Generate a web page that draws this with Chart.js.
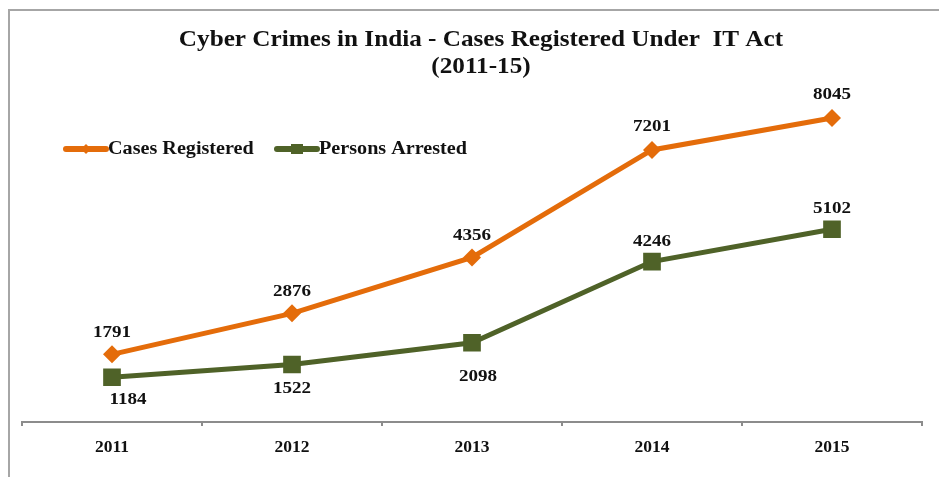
<!DOCTYPE html>
<html>
<head>
<meta charset="utf-8">
<script src="https://cdn.jsdelivr.net/npm/chart.js@4.4.1/dist/chart.umd.min.js"></script>
<style>
  body { margin: 0; background: #fff; }
  #frame { position: absolute; left: 8px; top: 9px; width: 931px; height: 468px;
           border-top: 2px solid #a6a6a6; border-left: 2px solid #a6a6a6; }
  #wrap { position: absolute; left: 0; top: 0; width: 939px; height: 477px; }
</style>
</head>
<body>
<div id="frame"></div>
<div id="wrap"><canvas id="cyber_chart"></canvas></div>
<script>
const years = ['2011', '2012', '2013', '2014', '2015']
const casesRegistered = [1791, 2876, 4356, 7201, 8045]
const personsArrested = [1184, 1522, 2098, 4246, 5102]
const titleLines = ['Cyber Crimes in India - Cases Registered Under  IT Act', '(2011-15)']

const serif = "'Liberation Serif', 'Times New Roman', serif"
const orange = '#E46C0A'
const green = '#4F6228'
const stretch = 1.12   // the source lettering is a bit wide

// where each value label sits relative to its point
const labelPlacement = [
    [[0, -22], [0, -22], [0, -22], [0, -23], [0, -23]],
    [[16, 22], [0, 24], [6, 34], [0, -20], [0, -21]]
]

function wideText(ctx, text, x, y, align) {
    ctx.save()
    ctx.translate(x, y)
    ctx.scale(stretch, 1)
    ctx.textAlign = align || 'center'
    ctx.fillText(text, 0, 0)
    ctx.restore()
}

const extras = {
    id: 'extras',
    afterDraw(chart) {
        const ctx = chart.ctx
        ctx.save()
        ctx.fillStyle = '#111'
        ctx.textBaseline = 'middle'

        // title
        ctx.font = 'bold 22.5px ' + serif
        wideText(ctx, titleLines[0], 481, 40)
        wideText(ctx, titleLines[1], 481, 67)

        // value labels
        ctx.font = 'bold 17px ' + serif
        chart.data.datasets.forEach((ds, i) => {
            chart.getDatasetMeta(i).data.forEach((pt, j) => {
                const off = labelPlacement[i][j]
                wideText(ctx, String(ds.data[j]), pt.x + off[0], pt.y + off[1])
            })
        })

        // legend
        const legendX = [66, 277]
        const ly = 149
        chart.data.datasets.forEach((ds, i) => {
            const x0 = legendX[i]
            ctx.strokeStyle = ds.borderColor
            ctx.fillStyle = ds.borderColor
            ctx.lineWidth = 6
            ctx.lineCap = 'round'
            ctx.beginPath()
            ctx.moveTo(x0, ly)
            ctx.lineTo(x0 + 40, ly)
            ctx.stroke()
            if (i === 0) {
                ctx.beginPath()
                ctx.moveTo(x0 + 20, ly - 5)
                ctx.lineTo(x0 + 25, ly)
                ctx.lineTo(x0 + 20, ly + 5)
                ctx.lineTo(x0 + 15, ly)
                ctx.closePath()
                ctx.fill()
            } else {
                ctx.fillRect(x0 + 14, ly - 5, 12, 10)
            }
            ctx.fillStyle = '#111'
            ctx.font = 'bold 18px ' + serif
            wideText(ctx, ds.label, x0 + 42, ly, 'left')
        })
        ctx.restore()
    }
}

new Chart(document.getElementById('cyber_chart'), {
    type: 'line',
    data: {
        labels: years,
        datasets: [{
            label: 'Cases Registered',
            data: casesRegistered,
            borderColor: orange,
            backgroundColor: orange,
            borderWidth: 5,
            pointStyle: 'rectRot',
            pointRadius: 9,
            pointBorderWidth: 0,
            tension: 0
        }, {
            label: 'Persons Arrested',
            data: personsArrested,
            borderColor: green,
            backgroundColor: green,
            borderWidth: 5,
            pointStyle: 'rect',
            pointRadius: 12.5,
            pointBorderWidth: 0,
            tension: 0
        }]
    },
    options: {
        responsive: true,
        maintainAspectRatio: false,
        animation: false,
        layout: { padding: { left: 22, right: 17, top: 82, bottom: 8 } },
        plugins: {
            legend: { display: false },
            title: { display: false },
            tooltip: { enabled: false }
        },
        scales: {
            x: {
                offset: true,
                grid: {
                    offset: true,
                    drawOnChartArea: false,
                    drawTicks: true,
                    tickLength: 4,
                    color: '#8c8c8c',
                    lineWidth: 2
                },
                border: { display: true, color: '#8c8c8c', width: 2 },
                ticks: {
                    padding: 11,
                    color: '#111',
                    font: { family: serif, size: 17.5, weight: 'bold' }
                }
            },
            y: {
                display: false,
                min: 0,
                max: 9000
            }
        }
    },
    plugins: [extras]
})
</script>
</body>
</html>
